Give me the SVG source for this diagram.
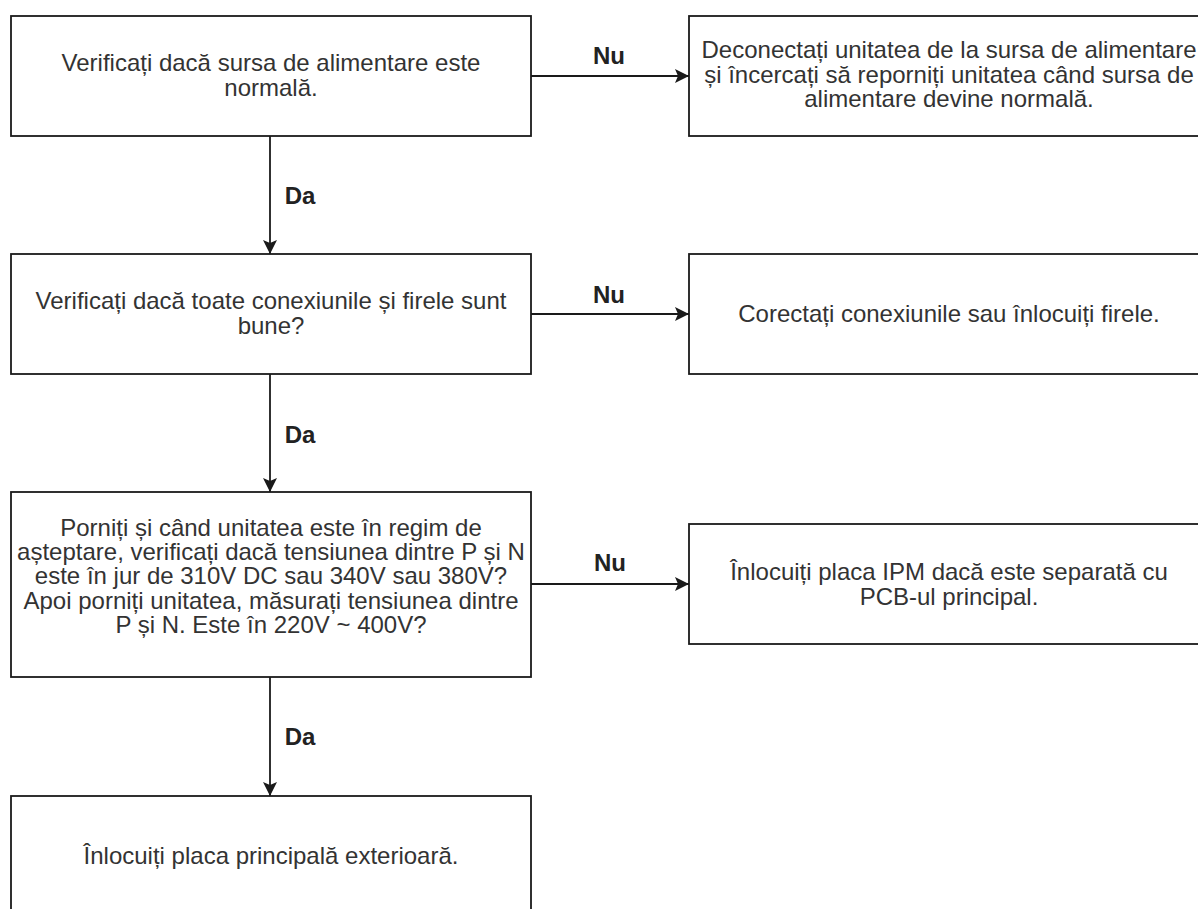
<svg xmlns="http://www.w3.org/2000/svg" width="1198" height="909" viewBox="0 0 1198 909">
<style>
.box{fill:#fff;stroke:#1a1a1a;stroke-width:1.8}
.t{font-family:"Liberation Sans",Arial,sans-serif;font-size:24px;fill:#333;text-anchor:middle}
.lbl{font-family:"Liberation Sans",Arial,sans-serif;font-size:24px;font-weight:bold;fill:#222;text-anchor:middle}
.edge{stroke:#1a1a1a;stroke-width:1.8;fill:none}
</style>
<defs>
<marker id="arr" viewBox="0 0 10 10" refX="10" refY="5" markerWidth="7" markerHeight="7" orient="auto" markerUnits="userSpaceOnUse">
<path d="M0,0 L10,5 L0,10 L2.5,5 Z" fill="#1a1a1a"/>
</marker>
</defs>
<rect width="1198" height="909" fill="#fff"/>
<g id="connectors">
<path class="edge" d="M531,76 H689" marker-end="url(#a1)"/>
<path class="edge" d="M531,314 H689"/>
<path class="edge" d="M531,584 H689"/>
<path class="edge" d="M270,136 V254"/>
<path class="edge" d="M270,374 V492"/>
<path class="edge" d="M270,677 V796"/>
<path d="M689,76 L675,69 L678,76 L675,83 Z" fill="#1a1a1a"/>
<path d="M689,314 L675,307 L678,314 L675,321 Z" fill="#1a1a1a"/>
<path d="M689,584 L675,577 L678,584 L675,591 Z" fill="#1a1a1a"/>
<path d="M270,254 L263,240 L270,243 L277,240 Z" fill="#1a1a1a"/>
<path d="M270,492 L263,478 L270,481 L277,478 Z" fill="#1a1a1a"/>
<path d="M270,796 L263,782 L270,785 L277,782 Z" fill="#1a1a1a"/>
<text class="lbl" x="609" y="64">Nu</text>
<text class="lbl" x="609" y="303">Nu</text>
<text class="lbl" x="610" y="571">Nu</text>
<text class="lbl" x="300" y="204">Da</text>
<text class="lbl" x="300" y="443">Da</text>
<text class="lbl" x="300" y="745">Da</text>
</g>
<g id="n1">
<rect class="box" x="11" y="16" width="520" height="120"/>
<text class="t" x="271" y="70.5">Verificați dacă sursa de alimentare este</text>
<text class="t" x="271" y="96">normală.</text>
</g>
<g id="n2">
<rect class="box" x="689" y="16" width="520" height="120"/>
<text class="t" x="949" y="58.3">Deconectați unitatea de la sursa de alimentare</text>
<text class="t" x="949" y="82.8">și încercați să reporniți unitatea când sursa de</text>
<text class="t" x="949" y="107.3">alimentare devine normală.</text>
</g>
<g id="n3">
<rect class="box" x="11" y="254" width="520" height="120"/>
<text class="t" x="271" y="309">Verificați dacă toate conexiunile și firele sunt</text>
<text class="t" x="271" y="334">bune?</text>
</g>
<g id="n4">
<rect class="box" x="689" y="254" width="520" height="120"/>
<text class="t" x="949" y="322">Corectați conexiunile sau înlocuiți firele.</text>
</g>
<g id="n5">
<rect class="box" x="11" y="492" width="520" height="185"/>
<text class="t" x="271" y="535.7">Porniți și când unitatea este în regim de</text>
<text class="t" x="271" y="560">așteptare, verificați dacă tensiunea dintre P și N</text>
<text class="t" x="271" y="584.2">este în jur de 310V DC sau 340V sau 380V?</text>
<text class="t" x="271" y="608.5">Apoi porniți unitatea, măsurați tensiunea dintre</text>
<text class="t" x="271" y="632.7">P și N. Este în 220V ~ 400V?</text>
</g>
<g id="n6">
<rect class="box" x="689" y="524" width="520" height="120"/>
<text class="t" x="949" y="580">Înlocuiți placa IPM dacă este separată cu</text>
<text class="t" x="949" y="604.5">PCB-ul principal.</text>
</g>
<g id="n7">
<rect class="box" x="11" y="796" width="520" height="130"/>
<text class="t" x="271" y="864">Înlocuiți placa principală exterioară.</text>
</g>
</svg>
